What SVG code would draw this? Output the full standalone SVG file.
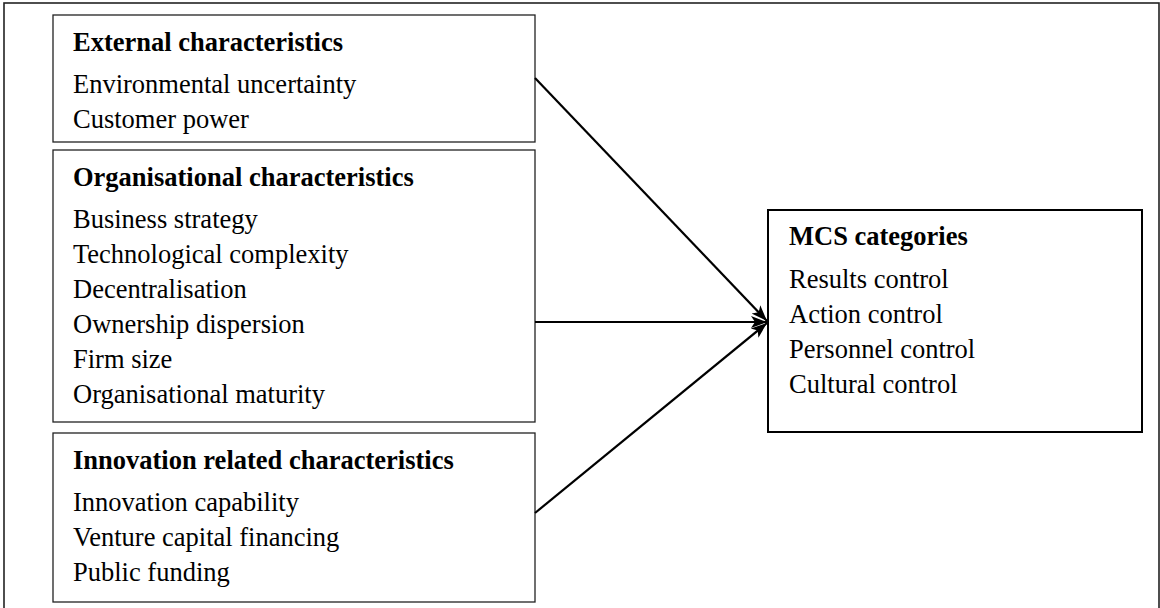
<svg xmlns="http://www.w3.org/2000/svg" width="1160" height="608" viewBox="0 0 1160 608">
  <style>
    .frame { fill: none; stroke: #222; stroke-width: 1.6; }
    .box { fill: #fff; stroke: #222; stroke-width: 1.3; }
    .box2 { fill: #fff; stroke: #000; stroke-width: 2; }
    text { font-family: "Liberation Serif", "Times New Roman", serif; font-size: 26.5px; fill: #000; }
    .h { font-weight: bold; }
    .conn { stroke: #000; stroke-width: 2.2; fill: none; marker-end: url(#arr); }
  </style>
  <defs>
    <marker id="arr" markerUnits="userSpaceOnUse" markerWidth="18" markerHeight="14" refX="16" refY="7" orient="auto">
      <path d="M0,1 L16,7 L0,13 L4,7 Z" fill="#000"/>
    </marker>
  </defs>
  <rect class="frame" x="4" y="3" width="1155" height="640"/>
  <g id="external">
    <rect class="box" x="53" y="15" width="482" height="127"/>
    <text class="h" x="73" y="51">External characteristics</text>
    <text x="73" y="93">Environmental uncertainty</text>
    <text x="73" y="128">Customer power</text>
  </g>
  <g id="organisational">
    <rect class="box" x="53" y="150" width="482" height="272"/>
    <text class="h" x="73" y="186">Organisational characteristics</text>
    <text x="73" y="228">Business strategy</text>
    <text x="73" y="263">Technological complexity</text>
    <text x="73" y="298">Decentralisation</text>
    <text x="73" y="333">Ownership dispersion</text>
    <text x="73" y="368">Firm size</text>
    <text x="73" y="403">Organisational maturity</text>
  </g>
  <g id="innovation">
    <rect class="box" x="53" y="433" width="482" height="169"/>
    <text class="h" x="73" y="469">Innovation related characteristics</text>
    <text x="73" y="511">Innovation capability</text>
    <text x="73" y="546">Venture capital financing</text>
    <text x="73" y="581">Public funding</text>
  </g>
  <g id="mcs">
    <rect class="box2" x="768" y="210" width="374" height="222"/>
    <text class="h" x="789" y="245">MCS categories</text>
    <text x="789" y="288">Results control</text>
    <text x="789" y="323">Action control</text>
    <text x="789" y="358">Personnel control</text>
    <text x="789" y="393">Cultural control</text>
  </g>
  <g id="connectors">
    <line class="conn" x1="535" y1="78" x2="767" y2="321"/>
    <line class="conn" x1="535" y1="322" x2="767" y2="322"/>
    <line class="conn" x1="535" y1="513" x2="767" y2="323"/>
  </g>
</svg>
